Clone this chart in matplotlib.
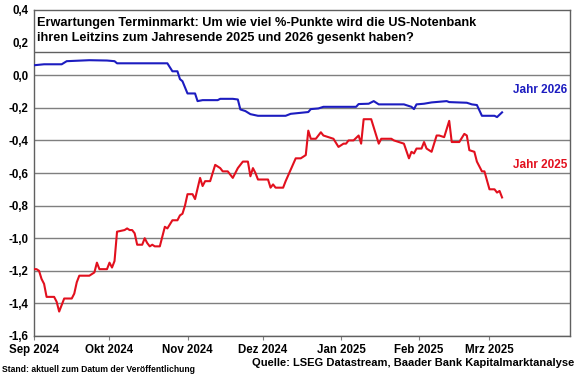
import pandas as pd
import matplotlib
matplotlib.use('Agg')
import matplotlib.pyplot as plt
from matplotlib.patches import Rectangle

plt.rcParams['font.family'] = ['Liberation Sans', 'DejaVu Sans']
plt.rcParams['font.weight'] = 'bold'

# Jahr 2025 (rot)
red_dates = ['2024-09-01', '2024-09-02', '2024-09-03', '2024-09-04', '2024-09-05', '2024-09-06',
             '2024-09-09', '2024-09-10', '2024-09-11', '2024-09-12', '2024-09-13', '2024-09-16',
             '2024-09-17', '2024-09-18', '2024-09-19', '2024-09-23', '2024-09-24', '2024-09-25',
             '2024-09-26', '2024-09-27', '2024-09-30', '2024-10-01', '2024-10-02', '2024-10-03',
             '2024-10-04', '2024-10-07', '2024-10-08', '2024-10-09', '2024-10-10', '2024-10-11',
             '2024-10-12', '2024-10-14', '2024-10-15', '2024-10-16', '2024-10-17', '2024-10-18',
             '2024-10-19', '2024-10-21', '2024-10-22', '2024-10-23', '2024-10-24', '2024-10-26',
             '2024-10-28', '2024-10-29', '2024-10-30', '2024-10-31', '2024-11-01', '2024-11-03',
             '2024-11-04', '2024-11-06', '2024-11-07', '2024-11-08', '2024-11-10', '2024-11-12',
             '2024-11-14', '2024-11-15', '2024-11-17', '2024-11-19', '2024-11-21', '2024-11-23',
             '2024-11-25', '2024-11-26', '2024-11-27', '2024-11-28', '2024-11-29', '2024-12-01',
             '2024-12-03', '2024-12-04', '2024-12-05', '2024-12-06', '2024-12-09', '2024-12-10',
             '2024-12-12', '2024-12-14', '2024-12-16', '2024-12-18', '2024-12-19', '2024-12-20',
             '2024-12-22', '2024-12-24', '2024-12-25', '2024-12-27', '2024-12-29', '2024-12-31',
             '2025-01-02', '2025-01-03', '2025-01-04', '2025-01-06', '2025-01-08', '2025-01-09',
             '2025-01-10', '2025-01-13', '2025-01-15', '2025-01-16', '2025-01-17', '2025-01-21',
             '2025-01-22', '2025-01-24', '2025-01-26', '2025-01-28', '2025-01-29', '2025-01-30',
             '2025-01-31', '2025-02-02', '2025-02-03', '2025-02-04', '2025-02-06', '2025-02-08',
             '2025-02-09', '2025-02-11', '2025-02-13', '2025-02-14', '2025-02-17', '2025-02-19',
             '2025-02-20', '2025-02-21', '2025-02-23', '2025-02-24', '2025-02-26', '2025-02-27',
             '2025-03-01', '2025-03-03', '2025-03-04', '2025-03-05', '2025-03-06']
red_vals = [-1.19, -1.19, -1.20, -1.25, -1.28, -1.36,
            -1.36, -1.39, -1.45, -1.41, -1.37, -1.37,
            -1.34, -1.27, -1.23, -1.23, -1.22, -1.21,
            -1.15, -1.19, -1.19, -1.15, -1.18, -1.14,
            -0.96, -0.95, -0.94, -0.95, -0.95, -0.97,
            -1.04, -1.04, -1.00, -1.03, -1.05, -1.04,
            -1.05, -1.05, -0.99, -0.93, -0.94, -0.89,
            -0.89, -0.86, -0.85, -0.80, -0.73, -0.73,
            -0.76, -0.63, -0.68, -0.65, -0.65, -0.55,
            -0.57, -0.59, -0.59, -0.63, -0.57, -0.53,
            -0.53, -0.62, -0.57, -0.60, -0.64, -0.64,
            -0.64, -0.69, -0.67, -0.69, -0.69, -0.65,
            -0.58, -0.51, -0.51, -0.49, -0.34, -0.39,
            -0.39, -0.35, -0.37, -0.38, -0.39, -0.44,
            -0.42, -0.42, -0.40, -0.40, -0.37, -0.42,
            -0.27, -0.27, -0.37, -0.42, -0.39, -0.39,
            -0.40, -0.41, -0.42, -0.51, -0.47, -0.48,
            -0.45, -0.45, -0.41, -0.45, -0.47, -0.37,
            -0.37, -0.38, -0.28, -0.41, -0.41, -0.36,
            -0.37, -0.46, -0.47, -0.53, -0.59, -0.59,
            -0.70, -0.70, -0.72, -0.71, -0.75]

# Jahr 2026 (blau)
blue_dates = ['2024-09-01', '2024-09-05', '2024-09-12', '2024-09-14', '2024-09-23', '2024-09-30',
              '2024-10-03', '2024-10-04', '2024-10-24', '2024-10-26', '2024-10-28', '2024-10-29',
              '2024-10-30', '2024-11-01', '2024-11-04', '2024-11-05', '2024-11-07', '2024-11-13',
              '2024-11-14', '2024-11-19', '2024-11-21', '2024-11-22', '2024-11-24', '2024-11-26',
              '2024-11-29', '2024-12-10', '2024-12-12', '2024-12-19', '2024-12-20', '2024-12-23',
              '2024-12-25', '2025-01-07', '2025-01-08', '2025-01-12', '2025-01-14', '2025-01-16',
              '2025-01-26', '2025-01-29', '2025-01-30', '2025-01-31', '2025-02-03', '2025-02-06',
              '2025-02-12', '2025-02-13', '2025-02-20', '2025-02-22', '2025-02-24', '2025-02-26',
              '2025-03-03', '2025-03-04', '2025-03-06']
blue_vals = [0.061, 0.067, 0.067, 0.086, 0.092, 0.090,
             0.086, 0.073, 0.073, 0.024, 0.024, -0.024,
             -0.037, -0.112, -0.112, -0.159, -0.153, -0.153,
             -0.145, -0.145, -0.149, -0.210, -0.220, -0.239,
             -0.249, -0.249, -0.237, -0.226, -0.208, -0.204,
             -0.194, -0.194, -0.177, -0.175, -0.159, -0.179,
             -0.179, -0.194, -0.208, -0.179, -0.175, -0.167,
             -0.159, -0.165, -0.169, -0.179, -0.183, -0.249,
             -0.249, -0.257, -0.228]

month_ticks = ['2024-09-01', '2024-10-01', '2024-11-01', '2024-12-01',
               '2025-01-01', '2025-02-01', '2025-03-01']
month_labels = ['Sep 2024', 'Okt 2024', 'Nov 2024', 'Dez 2024',
                'Jan 2025', 'Feb 2025', 'Mrz 2025']
y_ticks = [0.4, 0.2, 0.0, -0.2, -0.4, -0.6, -0.8, -1.0, -1.2, -1.4, -1.6]

title = ('Erwartungen Terminmarkt: Um wie viel %-Punkte wird die US-Notenbank\n'
         'ihren Leitzins zum Jahresende 2025 und 2026 gesenkt haben?')

RED = '#e2101e'
BLUE = '#1c1cc0'
GRID = '#7f7f7f'

fig = plt.figure(figsize=(5.8, 3.75), dpi=100)
ax = fig.add_axes([34/580, 1-336/375, 536/580, 326/375])

ax.plot(pd.to_datetime(red_dates), red_vals, color=RED, lw=1.5, zorder=3)
ax.plot(pd.to_datetime(blue_dates), blue_vals, color=BLUE, lw=1.5, zorder=3)

ax.set_xlim(pd.Timestamp('2024-09-01'), pd.Timestamp('2025-04-02'))
ax.set_ylim(-1.6, 0.4)
ax.set_yticks(y_ticks)
ax.set_yticklabels([('%.1f' % v).replace('.', ',') for v in y_ticks])
ax.set_xticks(pd.to_datetime(month_ticks))
ax.set_xticklabels(month_labels)
ax.grid(axis='y', color=GRID, lw=1.0)
ax.set_axisbelow(True)

ax.tick_params(axis='x', length=3, direction='out', pad=3, labelsize=8.3, color=GRID)
ax.tick_params(axis='y', length=0, pad=4, labelsize=8.3)
for lab in ax.get_xticklabels() + ax.get_yticklabels():
    lab.set_fontweight('bold')
for s in ['left', 'bottom', 'right', 'top']:
    ax.spines[s].set_color('#606060')
    ax.spines[s].set_linewidth(1.0)

# title box inside the plot
ax.add_patch(Rectangle((0, 0.871), 1, 0.129, transform=ax.transAxes,
                       facecolor='white', edgecolor='#606060', lw=1.0, zorder=4))
ax.text(0.005, 0.978, title, transform=ax.transAxes, ha='left', va='top',
        fontsize=9.2, fontweight='bold', linespacing=1.35, zorder=5)

ax.text(pd.Timestamp('2025-04-01'), -0.09, 'Jahr 2026', color=BLUE, fontsize=8.5,
        fontweight='bold', ha='right', va='center')
ax.text(pd.Timestamp('2025-04-01'), -0.55, 'Jahr 2025', color=RED, fontsize=8.5,
        fontweight='bold', ha='right', va='center')

fig.text(2/580, 1-370/375, 'Stand: aktuell zum Datum der Veröffentlichung',
         fontsize=6.2, fontweight='bold', ha='left', va='center')
fig.text(574/580, 1-363/375, 'Quelle: LSEG Datastream, Baader Bank Kapitalmarktanalyse',
         fontsize=8, fontweight='bold', ha='right', va='center')

fig.savefig('out.png', dpi=100)
